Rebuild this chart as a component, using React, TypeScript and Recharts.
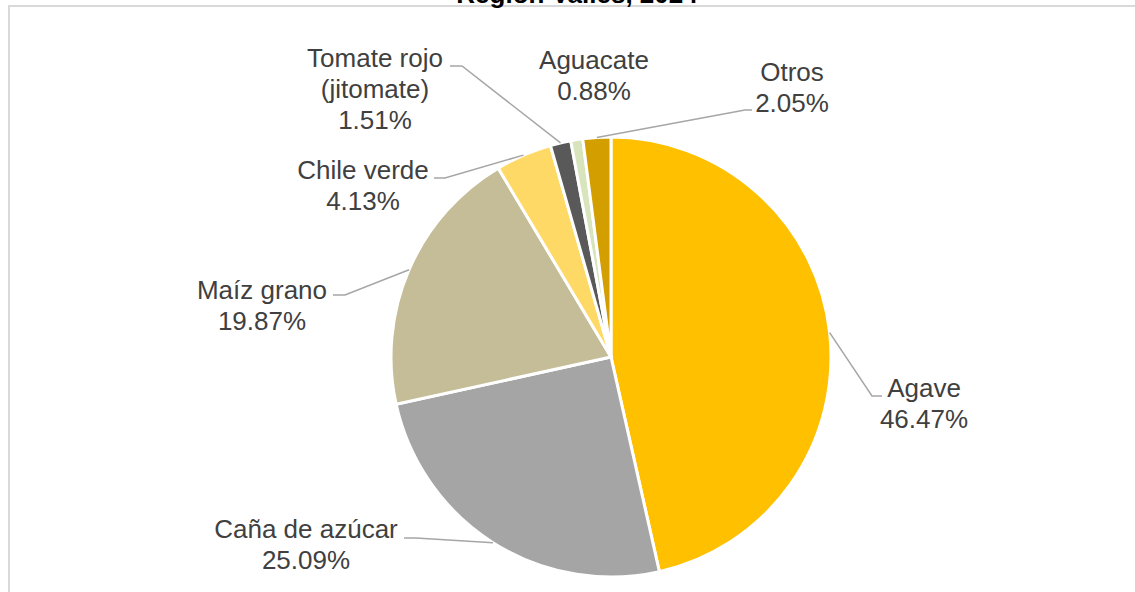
import React from 'react';
import { PieChart, Pie, Cell } from 'recharts';

const CATEGORIES = [
  'Agave',
  'Caña de azúcar',
  'Maíz grano',
  'Chile verde',
  'Tomate rojo (jitomate)',
  'Aguacate',
  'Otros',
];
const SHARES = [46.47, 25.09, 19.87, 4.13, 1.51, 0.88, 2.05];
const COLORS = ['#FFC000', '#A5A5A5', '#C4BD97', '#FFD966', '#595959', '#D8E4BC', '#D29E00'];

const DATA = CATEGORIES.map((name, i) => ({ name, value: SHARES[i] }));

// label placement relative to pie centre: text centre x, first line y, elbow, line end
const LABEL_LAYOUT = [
  { tx: 313, ty: 31, ex: 261, ey: 39, lx: 271, ly: 39 },
  { tx: -305, ty: 172, ex: -195, ey: 181, lx: -207, ly: 181 },
  { tx: -349, ty: -67, ex: -266, ey: -62, lx: -278, ly: -62 },
  { tx: -248, ty: -187, ex: -166, ey: -179, lx: -177, ly: -179 },
  { tx: -236, ty: -299, ex: -149, ey: -291, lx: -161, ly: -291 },
  { tx: -17, ty: -297, ex: null, ey: null, lx: null, ly: null },
  { tx: 181, ty: -285, ex: 134, ey: -247, lx: 141, ly: -247 },
];

const RAD = Math.PI / 180;
const LINE_H = 31;

function splitName(name: string) {
  const k = name.indexOf(' (');
  return k > 0 ? [name.slice(0, k), name.slice(k + 1)] : [name];
}

function renderLabel(props: any) {
  const { cx, cy, midAngle, outerRadius, index, name, value } = props;
  const lay = LABEL_LAYOUT[index];
  const lines = [...splitName(name), `${Number(value).toFixed(2)}%`];
  const sx = cx + outerRadius * Math.cos(-midAngle * RAD);
  const sy = cy + outerRadius * Math.sin(-midAngle * RAD);
  return (
    <g key={`lbl-${index}`}>
      {lay.ex !== null && (
        <polyline
          points={`${sx},${sy} ${cx + lay.ex},${cy + lay.ey} ${cx + lay.lx},${cy + lay.ly}`}
          fill="none"
          stroke="#A6A6A6"
          strokeWidth={1.5}
        />
      )}
      {lines.map((t, j) => (
        <text
          key={j}
          x={cx + lay.tx}
          y={cy + lay.ty + j * LINE_H}
          textAnchor="middle"
          dominantBaseline="central"
          fill="#404040"
          fontSize={26}
          fontFamily="'Liberation Sans', Arial, sans-serif"
        >
          {t}
        </text>
      ))}
    </g>
  );
}

export default function App() {
  return (
    <div
      style={{
        position: 'fixed',
        left: 0,
        top: 0,
        width: 1135,
        height: 592,
        overflow: 'hidden',
        background: '#fff',
      }}
    >
      <div
        style={{
          position: 'absolute',
          left: 8,
          top: 5,
          width: 1200,
          height: 700,
          border: '2px solid #D9D9D9',
        }}
      />
      <svg width={1135} height={20} style={{ position: 'absolute', left: 0, top: 0 }}>
        <text
          x={577}
          y={3}
          textAnchor="middle"
          fontSize={26}
          fontWeight="bold"
          fill="#000"
          fontFamily="'Liberation Sans', Arial, sans-serif"
        >
          Región Valles, 2024
        </text>
      </svg>
      <div style={{ position: 'absolute', left: 0, top: 0 }}>
        <PieChart width={1135} height={592} margin={{ top: 0, right: 0, bottom: 0, left: 0 }}>
          <Pie
            data={DATA}
            dataKey="value"
            nameKey="name"
            cx={611}
            cy={357}
            outerRadius={220}
            startAngle={90}
            endAngle={-270}
            stroke="#FFFFFF"
            strokeWidth={3}
            labelLine={false}
            label={renderLabel}
            isAnimationActive={false}
          >
            {DATA.map((d, i) => (
              <Cell key={d.name} fill={COLORS[i]} />
            ))}
          </Pie>
        </PieChart>
      </div>
    </div>
  );
}
